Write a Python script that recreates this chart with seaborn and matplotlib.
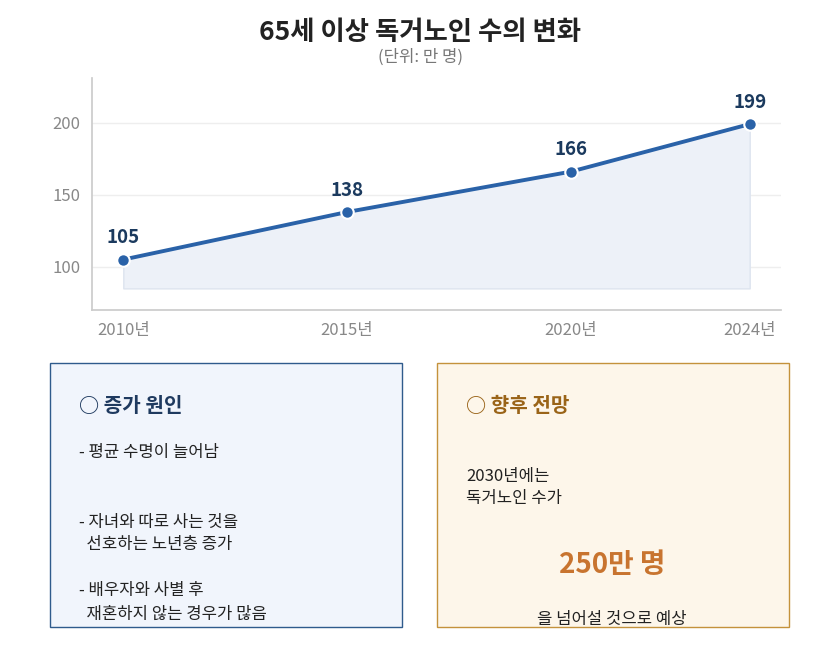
import matplotlib
matplotlib.use("Agg")
import matplotlib.pyplot as plt
import seaborn as sns
import pandas as pd
from matplotlib.patches import Rectangle

# 데이터
years = [2010, 2015, 2020, 2024]
counts = [105, 138, 166, 199]
year_labels = ["2010년", "2015년", "2020년", "2024년"]
y_ticks = [100, 150, 200]

cause_lines = ["- 평균 수명이 늘어남", "- 자녀와 따로 사는 것을", "  선호하는 노년층 증가",
               "- 배우자와 사별 후", "  재혼하지 않는 경우가 많음"]
outlook_lines = ["2030년에는", "독거노인 수가"]

df = pd.DataFrame({"연도": years, "독거노인": counts})

sns.set_theme(style="white")
plt.rcParams["font.family"] = ["Noto Sans CJK KR", "DejaVu Sans"]

W, H = 840, 660
fig = plt.figure(figsize=(W / 100, H / 100), dpi=100)
ax = fig.add_axes([92 / W, 1 - 310 / H, (781 - 92) / W, (310 - 78) / H])

# 영역 채우기
ax.fill_between(df["연도"], 85, df["독거노인"], color="#edf1f8", edgecolor="#dde4ef", linewidth=1, zorder=1)
sns.lineplot(data=df, x="연도", y="독거노인", ax=ax, color="#2a62a8", linewidth=2.8,
             marker="o", markersize=9, markeredgecolor="white", markeredgewidth=1.5, zorder=3)

for x, y in zip(years, counts):
    ax.annotate(str(y), (x, y), xytext=(0, 9), textcoords="offset points", ha="center", va="bottom",
                fontsize=13.5, fontweight="bold", color="#1b3a5e")

ax.set_xlim(2009.3, 2024.7)
ax.set_ylim(70, 231)
ax.set_xticks(years)
ax.set_xticklabels(year_labels)
ax.set_yticks(y_ticks)
ax.set_xlabel("")
ax.set_ylabel("")
ax.tick_params(axis="both", colors="#cccccc", labelcolor="#888888", labelsize=12, length=5, width=1)
ax.grid(axis="y", color="#eeeeee", linewidth=1)
ax.set_axisbelow(True)
for s in ["top", "right"]:
    ax.spines[s].set_visible(False)
for s in ["left", "bottom"]:
    ax.spines[s].set_color("#cccccc")

# 제목
def fy(py):
    return 1 - py / H

fig.text(0.5, fy(33), "65세 이상 독거노인 수의 변화", ha="center", va="center",
         fontsize=19, fontweight="bold", color="#222222")
fig.text(0.5, fy(57), "(단위: 만 명)", ha="center", va="center", fontsize=12, color="#777777")

# 박스
fig.patches.append(Rectangle((50 / W, fy(627)), 352 / W, 264 / H, transform=fig.transFigure,
                             facecolor="#f1f5fc", edgecolor="#2f5b8c", linewidth=1))
fig.patches.append(Rectangle((437 / W, fy(627)), 352 / W, 264 / H, transform=fig.transFigure,
                             facecolor="#fdf6ea", edgecolor="#c4923c", linewidth=1))

fig.text(79 / W, fy(405), "○ 증가 원인", ha="left", va="center", fontsize=14.5,
         fontweight="bold", color="#1f3a5f")
for py, line in zip([453, 522, 545, 591, 614], cause_lines):
    fig.text(79 / W, fy(py), line, ha="left", va="center", fontsize=12, color="#222222")

fig.text(466 / W, fy(405), "○ 향후 전망", ha="left", va="center", fontsize=14.5,
         fontweight="bold", color="#9a6418")
for py, line in zip([477, 498], outlook_lines):
    fig.text(466 / W, fy(py), line, ha="left", va="center", fontsize=12, color="#222222")
fig.text(612 / W, fy(565), "250만 명", ha="center", va="center", fontsize=20,
         fontweight="bold", color="#c8742f")
fig.text(612 / W, fy(619), "을 넘어설 것으로 예상", ha="center", va="center", fontsize=12, color="#222222")

fig.savefig("out.png", dpi=100)
